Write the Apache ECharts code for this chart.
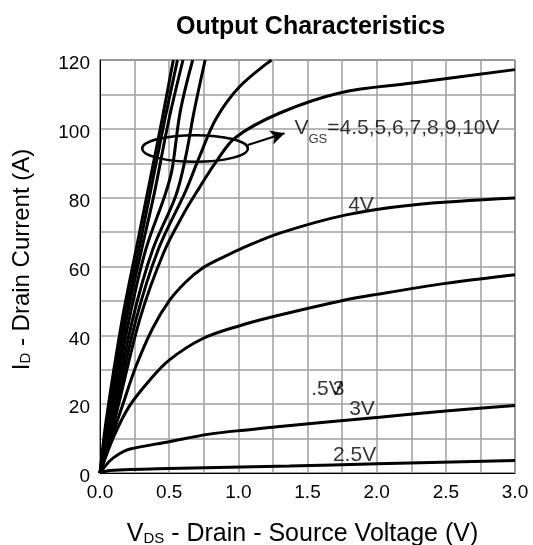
<!DOCTYPE html>
<html>
<head>
<meta charset="utf-8">
<script src="https://cdn.jsdelivr.net/npm/echarts@6/dist/echarts.min.js"></script>
<style>
  html, body { margin: 0; padding: 0; background: #fff; }
  #chart { width: 533px; height: 545px; }
</style>
</head>
<body>
<div id="chart"></div>
<script>
// curves, [VDS (V), ID (A)]
var vgs10 = [[0,0],[0.045,15.4],[0.16,44.5],[0.26,64.8],[0.34,80.8],[0.45,103],[0.53,120]];
var vgs9  = [[0,0],[0.055,15.4],[0.175,44.5],[0.28,64.8],[0.36,80.8],[0.47,103],[0.56,120]];
var vgs8  = [[0,0],[0.065,15.4],[0.19,44.5],[0.30,64.8],[0.39,80.8],[0.50,103],[0.60,120]];
var vgs7  = [[0,0],[0.075,15.4],[0.21,44.5],[0.33,64.8],[0.47,80.8],[0.52,88],[0.58,105],[0.67,120]];
var vgs6  = [[0,0],[0.085,15.4],[0.235,44.5],[0.38,64.8],[0.55,80.8],[0.62,92],[0.68,105],[0.76,120]];
var vgs5  = [[0,0],[0.095,15.4],[0.26,44.5],[0.42,64.8],[0.62,82],[0.72,92],[0.84,103],[1.01,112.3],[1.24,120]];
var vgs45 = [[0,0],[0.11,16],[0.29,45],[0.46,64],[0.6,75],[0.72,83],[0.84,90.5],[0.98,97.5],[1.3,104.6],[1.74,110.5],[2.26,113.3],[3,117.2]];
var vgs4  = [[0,0],[0.07,8.7],[0.16,19.3],[0.26,31],[0.38,42],[0.5,50],[0.62,55.5],[0.74,59.5],[0.88,62.5],[1.01,65],[1.3,69.7],[1.78,75],[2.26,77.9],[3,79.9]];
var vgs35 = [[0,0],[0.1,10.6],[0.21,19.3],[0.36,27],[0.5,32.8],[0.74,39],[1.01,42.8],[1.3,45.9],[1.74,50],[2,51.9],[2.5,55.1],[3,57.6]];
var vgs3  = [[0,0],[0.07,3.5],[0.14,5.6],[0.21,6.9],[0.5,9.1],[0.79,11.3],[1.08,12.6],[1.3,13.5],[2.02,16.2],[2.5,18],[3,19.6]];
var vgs25 = [[0,0],[0.07,0.7],[0.5,1.3],[1.37,2],[2,2.7],[3,3.6]];

var curves = [vgs10, vgs9, vgs8, vgs7, vgs6, vgs5, vgs45, vgs4, vgs35, vgs3, vgs25];
var curveNames = ['10V','9V','8V','7V','6V','5V','4.5V','4V','3.5V','3V','2.5V'];

// text labels on the plot (text, then where it sits in data units)
var labelTexts = ['4V', '.5V', '3', '3V', '2.5V'];
var labelAt = [[1.887,77.7],[1.641,24.4],[1.725,24.4],[1.894,18.6],[1.84,5.3]];

var FONT = 'Liberation Sans, Arial, sans-serif';

var _chart = echarts.init(document.getElementById('chart'));

var series = [];
for (var k = 0; k < curves.length; k++) {
    series.push({
        name: curveNames[k],
        type: 'line',
        data: curves[k],
        showSymbol: false,
        smooth: 0.35,
        lineStyle: { color: '#000', width: 3 },
        z: 3
    });
}
// arrow from the ellipse to the VGS text
series[6].markLine = {
    silent: true,
    symbol: ['none', 'arrow'],
    symbolSize: [11, 14],
    label: { show: false },
    lineStyle: { color: '#000', width: 2, type: 'solid' },
    data: [[{ coord: [1.068, 95.3] }, { coord: [1.334, 98.7] }]]
};

var labelData = [];
for (var j = 0; j < labelTexts.length; j++) {
    labelData.push({ value: labelAt[j], label: { formatter: labelTexts[j] } });
}
series.push({
    type: 'scatter',
    symbolSize: 0,
    silent: true,
    z: 5,
    label: { show: true, position: 'inside', color: '#000', textBorderWidth: 0, fontSize: 21, fontFamily: FONT },
    data: labelData
});
series.push({
    type: 'scatter',
    symbolSize: 0,
    silent: true,
    z: 5,
    label: {
        show: true,
        position: 'right',
        distance: 0,
        formatter: '{v|V}{s|GS}{v|=4.5,5,6,7,8,9,10V}',
        rich: {
            v: { fontSize: 21, fontFamily: FONT, color: '#000', lineHeight: 22, verticalAlign: 'top' },
            s: { fontSize: 13, fontFamily: FONT, color: '#000', lineHeight: 13, verticalAlign: 'top', padding: [15, 0, 0, 0] }
        }
    },
    data: [[1.406, 99.9]]
});

var option = {
    animation: false,
    title: {
        text: 'Output Characteristics',
        left: 171,
        top: 10,
        textStyle: { fontSize: 25, fontWeight: 'bold', color: '#000', fontFamily: FONT }
    },
    grid: {
        left: 100, right: 18, top: 60, bottom: 72,
        outerBoundsMode: 'none',
        show: true, borderColor: '#000', borderWidth: 1
    },
    xAxis: {
        type: 'value',
        min: 0, max: 3, interval: 0.5,
        name: '{b|V}{s|DS}{b| - Drain - Source Voltage (V)}',
        nameLocation: 'middle',
        nameGap: 49,
        nameTextStyle: {
            padding: [0, 10, 0, 0],
            rich: {
                b: { fontSize: 25, fontFamily: FONT, color: '#000' },
                s: { fontSize: 15, fontFamily: FONT, color: '#000', verticalAlign: 'bottom', padding: [0, 0, 1, 0] }
            }
        },
        axisLine: { lineStyle: { color: '#000', width: 1 } },
        axisTick: { show: false },
        axisLabel: {
            fontSize: 19, color: '#000', fontFamily: FONT, margin: 10,
            formatter: function (v) { return v.toFixed(1); }
        },
        splitLine: { show: true, lineStyle: { color: '#a0a0a0', width: 1.5 } },
        minorTick: { show: false, splitNumber: 2 },
        minorSplitLine: { show: true, lineStyle: { color: '#a0a0a0', width: 1.5 } }
    },
    yAxis: {
        type: 'value',
        min: 0, max: 120, interval: 20,
        name: '{b|I}{s|D}{b| - Drain Current (A)}',
        nameLocation: 'middle',
        nameRotate: 90,
        nameGap: 66,
        nameTextStyle: {
            padding: [0, 0, 0, 14],
            rich: {
                b: { fontSize: 24, fontFamily: FONT, color: '#000' },
                s: { fontSize: 15, fontFamily: FONT, color: '#000', verticalAlign: 'bottom', padding: [0, 0, 1, 0] }
            }
        },
        axisLine: { show: true, lineStyle: { color: '#000', width: 1 } },
        axisTick: { show: false },
        axisLabel: {
            fontSize: 19, color: '#000', fontFamily: FONT, margin: 10,
            formatter: '{t|{value}}',
            rich: { t: { fontSize: 19, color: '#000', fontFamily: FONT, padding: [8, 0, 0, 0] } }
        },
        splitLine: { show: true, lineStyle: { color: '#a0a0a0', width: 1.5 } },
        minorTick: { show: false, splitNumber: 2 },
        minorSplitLine: { show: true, lineStyle: { color: '#a0a0a0', width: 1.5 } }
    },
    series: series
};
_chart.setOption(option);

// ellipse round the 4.5..10V bundle
var c = _chart.convertToPixel({ gridIndex: 0 }, [0.687, 94.3]);
var e = _chart.convertToPixel({ gridIndex: 0 }, [0.687 + 0.382, 94.3 + 3.87]);
_chart.setOption({
    graphic: [{
        type: 'ellipse',
        shape: { cx: c[0], cy: c[1], rx: e[0] - c[0], ry: c[1] - e[1] },
        style: { fill: 'none', stroke: '#000', lineWidth: 2.5 },
        z: 100
    }]
});
</script>
</body>
</html>
